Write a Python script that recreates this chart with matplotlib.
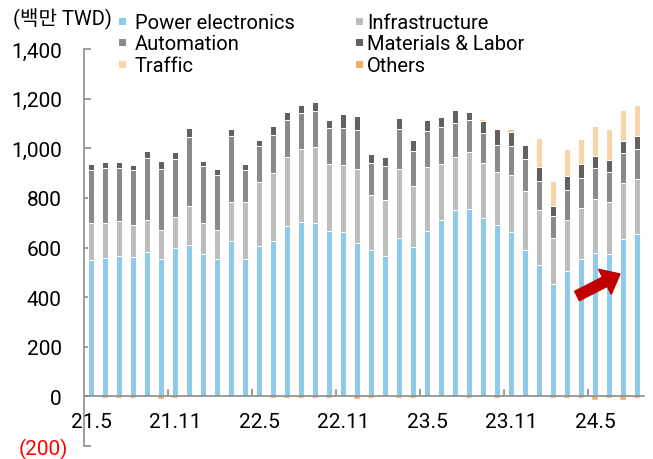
import numpy as np
import matplotlib
matplotlib.use("Agg")
import matplotlib.pyplot as plt
from matplotlib.patches import Rectangle, FancyArrow
from matplotlib.transforms import IdentityTransform, ScaledTranslation

plt.rcParams['font.family'] = ['Roboto', 'Noto Sans CJK KR', 'DejaVu Sans']

# ---------------- data ----------------
months = ["21.5", "21.6", "21.7", "21.8", "21.9", "21.10", "21.11", "21.12",
          "22.1", "22.2", "22.3", "22.4", "22.5", "22.6", "22.7", "22.8", "22.9", "22.10",
          "22.11", "22.12", "23.1", "23.2", "23.3", "23.4", "23.5", "23.6", "23.7", "23.8",
          "23.9", "23.10", "23.11", "23.12", "24.1", "24.2", "24.3", "24.4", "24.5", "24.6",
          "24.7", "24.8"]
tick_labels = ["21.5", "21.11", "22.5", "22.11", "23.5", "23.11", "24.5"]

power = [551, 559, 565, 561, 583, 553, 600, 610, 574, 553, 628, 554, 608, 628, 686, 702,
         700, 666, 661, 617, 589, 565, 640, 601, 668, 712, 750, 754, 720, 692, 661, 591,
         529, 452, 506, 553, 579, 573, 633, 653]
infra = [147, 141, 141, 130, 127, 119, 124, 159, 125, 119, 154, 231, 256, 272, 278, 294,
         305, 269, 270, 301, 223, 227, 277, 248, 258, 226, 215, 230, 221, 212, 230, 236,
         221, 185, 205, 207, 217, 211, 228, 222]
automation = [216, 222, 216, 221, 252, 245, 234, 277, 228, 222, 266, 129, 144, 155, 151, 146,
              145, 148, 151, 154, 130, 138, 161, 141, 142, 148, 136, 131, 121, 111, 117, 129,
              117, 89, 122, 120, 126, 120, 119, 122]
materials = [21, 24, 24, 22, 26, 33, 28, 37, 23, 24, 30, 24, 25, 36, 32, 32,
             37, 32, 55, 57, 35, 35, 44, 43, 45, 40, 53, 32, 47, 64, 56, 59,
             58, 42, 54, 55, 46, 50, 51, 51]
traffic = [0] * 32 + [116, 102, 110, 102, 122, 124, 122, 125]
others = [0, -6, -6, -6, 0, -12, -6, 0, 0, 0, 0, 0, 0, -6, -6, -6,
          -6, -6, 0, -12, -6, 0, -6, -6, 0, 0, 0, -6, 6, -6, 8, 0,
          0, -6, -6, -6, -13, -6, -13, -6]

series_names = ["Power electronics", "Infrastructure", "Automation", "Materials & Labor",
                "Traffic", "Others"]
colors = ["#8DCAEB", "#BDBDBD", "#8A8A8A", "#616161", "#F9D4A9", "#F0AE62"]

# ---------------- figure ----------------
fig = plt.figure(figsize=(6.53, 4.60), dpi=100)
ax = fig.add_axes([84 / 653, 13 / 460, 560 / 653, 397 / 460])

x = np.arange(len(months))
width = 0.45
pos_bottom = np.zeros(len(months))
neg_bottom = np.zeros(len(months))
for i, (vals, col) in enumerate(zip([power, infra, automation, materials, traffic, others], colors)):
    v = np.array(vals, dtype=float)
    b = np.where(v >= 0, pos_bottom, neg_bottom)
    lw = 0.7 if i < 5 else 0.3
    ax.bar(x, v, width=width, bottom=b, color=col, edgecolor="white", linewidth=lw, zorder=2)
    pos_bottom += np.where(v >= 0, v, 0)
    neg_bottom += np.where(v < 0, v, 0)

ax.set_xlim(-0.5, len(months) - 0.5)
ax.set_ylim(-200, 1400)

# spines
for s in ["top", "right"]:
    ax.spines[s].set_visible(False)
ax.spines["left"].set_color("#8C8C8C")
ax.spines["bottom"].set_color("#8C8C8C")
ax.spines["left"].set_linewidth(1.2)
ax.spines["bottom"].set_linewidth(1.2)
ax.spines["bottom"].set_position(("data", 0))
ax.spines["bottom"].set_zorder(3)

# y ticks
yt = np.arange(-200, 1401, 200)
ax.set_yticks(yt)
ax.set_yticklabels([f"({abs(v):,})" if v < 0 else f"{v:,}" for v in yt])
ax.tick_params(axis="y", direction="in", length=5, width=1.2, color="#8C8C8C",
               labelsize=15, pad=16, labelcolor="black")
for lab, v in zip(ax.get_yticklabels(), yt):
    if v < 0:
        lab.set_color("#FF0000")
        lab.set_transform(lab.get_transform() + ScaledTranslation(6 / 100, 0, fig.dpi_scale_trans))

# x ticks
major_pos = [months.index(t) for t in tick_labels]
ax.set_xticks(major_pos)
ax.set_xticklabels(tick_labels)
ax.set_xticks(np.arange(5.5, len(months) - 1, 6), minor=True)
ax.tick_params(axis="x", which="major", length=0, labelsize=15, pad=11)
ax.tick_params(axis="x", which="minor", direction="in", length=5, width=1.2, color="#8C8C8C")

# unit label
fig.text(13 / 653, 1 - 25 / 460, "(백만 TWD)", fontsize=14.5, ha="left", va="baseline",
         family=['Roboto', 'Noto Sans CJK KR'])

# legend (manual)
col_x = [(119, 135), (356, 367)]
row_base = [29, 50.5, 72]
for i, (name, col) in enumerate(zip(series_names, colors)):
    c = i % 2
    r = i // 2
    sx, tx = col_x[c]
    cy = row_base[r] - 7
    fig.add_artist(Rectangle((sx / 653, 1 - (cy + 3.5) / 460), 7 / 653, 7 / 460,
                             transform=fig.transFigure, facecolor=col, edgecolor="none"))
    fig.text(tx / 653, 1 - row_base[r] / 460, name, fontsize=14.5, ha="left", va="baseline")

# red arrow annotation
arrow = FancyArrow(577, 460 - 297, 43, 22, width=10.5, head_width=28, head_length=17,
                   length_includes_head=True, color="#C00000", transform=IdentityTransform(),
                   zorder=10)
fig.add_artist(arrow)

fig.savefig("out.png", dpi=100)
